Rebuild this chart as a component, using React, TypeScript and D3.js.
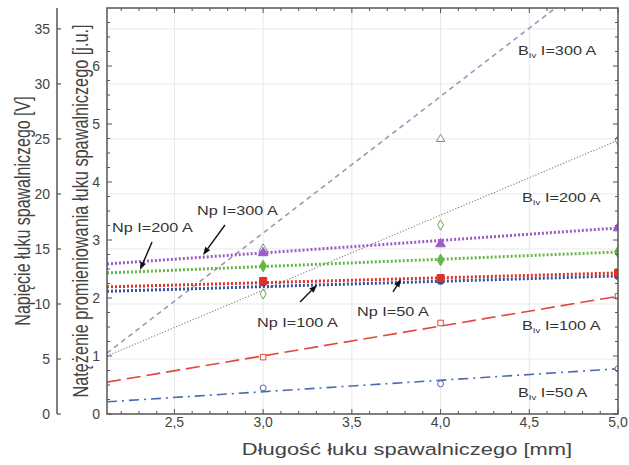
import React from "react";
import * as d3 from "d3";

// ---------- data ----------
const xTicks = [2.5, 3.0, 3.5, 4.0, 4.5, 5.0];
const xTickLabels = ["2,5", "3,0", "3,5", "4,0", "4,5", "5,0"];
const voltTicks = [0, 5, 10, 15, 20, 25, 30, 35];
const ivTicks = [0, 1, 2, 3, 4, 5, 6];
const measuredX = [3.0, 4.0, 5.0];
const lineX = [2.12, 5.0];

// Np series (arc voltage, V)
const npNames = ["Np I=300 A", "Np I=200 A", "Np I=100 A", "Np I=50 A"];
const npLine300 = [13.64, 16.91];
const npLine200 = [12.82, 14.73];
const npLine100 = [11.55, 12.82];
const npLine50 = [11.15, 12.55];
const npPts300 = [14.64, 15.45, 16.9];
const npPts200 = [13.45, 14.0, 14.73];
const npPts100 = [12.09, 12.36, 12.82];
const npPts50 = [11.95, 12.1, 12.55];

// Biv series (radiation intensity, j.u.)
const bivNames = ["I=300 A", "I=200 A", "I=100 A", "I=50 A"];
const bivLine300 = [1.05, 7.83];
const bivLine200 = [1.0, 4.72];
const bivLine100 = [0.55, 2.03];
const bivLine50 = [0.21, 0.78];
const bivPts300 = [2.85, 4.74, 7.6];
const bivPts200 = [2.07, 3.26, 4.72];
const bivPts100 = [0.98, 1.57, 2.03];
const bivPts50 = [0.45, 0.52, 0.78];

// ---------- layout ----------
const W = 629, H = 465;
const L = 107, R = 618, T = 8, B = 414;
const x = d3.scaleLinear().domain([2.12, 5.0]).range([L, R]);
const yV = d3.scaleLinear().domain([0, 36.9]).range([B, T]);
const yI = d3.scaleLinear().domain([0, 7]).range([B, T]);

const FONT = "Liberation Sans, Arial, sans-serif";

type Shape = "triangle" | "diamond" | "square" | "circle";
const symType: Record<Shape, d3.SymbolType> = {
  triangle: d3.symbolTriangle,
  diamond: d3.symbolDiamond,
  square: d3.symbolSquare,
  circle: d3.symbolCircle,
};

const npSeries = [
  { name: npNames[0], line: npLine300, pts: npPts300, color: "#9b5cc6", shape: "triangle" as Shape, size: 40 },
  { name: npNames[1], line: npLine200, pts: npPts200, color: "#62b845", shape: "diamond" as Shape, size: 40 },
  { name: npNames[3], line: npLine50, pts: npPts50, color: "#34509a", shape: "circle" as Shape, size: 40 },
  { name: npNames[2], line: npLine100, pts: npPts100, color: "#dd3327", shape: "square" as Shape, size: 50 },
];

const bivSeries = [
  { name: bivNames[0], line: bivLine300, pts: bivPts300, color: "#a096b8", mcolor: "#888888", dash: "5,4", width: 1.6, shape: "triangle" as Shape },
  { name: bivNames[1], line: bivLine200, pts: bivPts200, color: "#808080", mcolor: "#62a845", dash: "1.2,1.8", width: 1.1, shape: "diamond" as Shape },
  { name: bivNames[2], line: bivLine100, pts: bivPts100, color: "#e0483a", mcolor: "#e0483a", dash: "14,6", width: 1.6, shape: "square" as Shape },
  { name: bivNames[3], line: bivLine50, pts: bivPts50, color: "#4a6ab0", mcolor: "#4a6ab0", dash: "10,5,2,5", width: 1.6, shape: "circle" as Shape },
];

// annotation positions (data coordinates): label start x, label baseline (V), arrow tail, arrow tip
const npLabels = [
  { text: npNames[0], lx: 2.627, lv: 18.09, tail: [2.785, 17.18], tip: [2.661, 14.45] },
  { text: npNames[1], lx: 2.148, lv: 16.55, tail: [2.374, 15.64], tip: [2.306, 13.09] },
  { text: npNames[2], lx: 2.965, lv: 7.91, tail: [3.208, 10.18], tip: [3.304, 11.73] },
  { text: npNames[3], lx: 3.529, lv: 8.91, tail: [3.732, 11.09], tip: [3.777, 12.27] },
];
const bivLabels = [
  { text: bivNames[0], lx: 4.436, li: 6.19 },
  { text: bivNames[1], lx: 4.459, li: 3.66 },
  { text: bivNames[2], lx: 4.459, li: 1.45 },
  { text: bivNames[3], lx: 4.436, li: 0.29 },
];

function Arrow({ tail, tip }: { tail: number[]; tip: number[] }) {
  const x1 = x(tail[0]), y1 = yV(tail[1]);
  const x2 = x(tip[0]), y2 = yV(tip[1]);
  const ang = Math.atan2(y2 - y1, x2 - x1);
  const len = 8, half = 3;
  const bx = x2 - len * Math.cos(ang), by = y2 - len * Math.sin(ang);
  const px = -Math.sin(ang) * half, py = Math.cos(ang) * half;
  return (
    <g>
      <line x1={x1} y1={y1} x2={bx} y2={by} stroke="#111" strokeWidth={1.4} />
      <path d={`M${x2},${y2}L${bx + px},${by + py}L${bx - px},${by - py}Z`} fill="#111" />
    </g>
  );
}

export default function App() {
  const xMinor = d3.range(22, 51).map((d) => d / 10).filter((d) => Math.abs(d * 2 - Math.round(d * 2)) > 1e-6);
  const yMinor = d3.range(0, 29).map((d) => d / 4).filter((d) => Math.abs(d - Math.round(d)) > 1e-6);
  const vGrid = [2.5, 3.0, 3.5, 4.0, 4.5];
  const hGrid = [5, 10, 15, 20, 25, 30, 35];
  const lineGen = d3.line<[number, number]>().x((d) => d[0]).y((d) => d[1]);

  return (
    <svg width={W} height={H} style={{ position: "absolute", left: 0, top: 0, background: "#fff" }} fontFamily={FONT}>
      <defs>
        <clipPath id="plot">
          <rect x={L} y={T} width={R - L} height={B - T} />
        </clipPath>
      </defs>
      <rect x={0} y={0} width={W} height={H} fill="#fff" />

      {/* grid */}
      {vGrid.map((v) => (
        <line key={"vg" + v} x1={x(v)} x2={x(v)} y1={T} y2={B} stroke="#e8e8e8" strokeWidth={1} />
      ))}
      {hGrid.map((v) => (
        <line key={"hg" + v} x1={L} x2={R} y1={yV(v)} y2={yV(v)} stroke="#e8e8e8" strokeWidth={1} />
      ))}

      {/* series */}
      <g clipPath="url(#plot)">
        {bivSeries.map((s) => (
          <path
            key={"bl" + s.name}
            d={lineGen(lineX.map((xv, i) => [x(xv), yI(s.line[i])]) as [number, number][]) || ""}
            fill="none"
            stroke={s.color}
            strokeWidth={s.width}
            strokeDasharray={s.dash}
          />
        ))}
        {npSeries.map((s) => (
          <path
            key={"nl" + s.name}
            d={lineGen(lineX.map((xv, i) => [x(xv), yV(s.line[i])]) as [number, number][]) || ""}
            fill="none"
            stroke={s.color}
            strokeWidth={3}
            strokeDasharray="2,2"
          />
        ))}
        {bivSeries.map((s) =>
          s.pts.map((v, i) => (
            <path
              key={"bp" + s.name + i}
              d={d3.symbol().type(symType[s.shape]).size(s.shape === "circle" ? 28 : 30)() || ""}
              transform={`translate(${x(measuredX[i])},${yI(v)})`}
              fill="#fff"
              stroke={s.mcolor}
              strokeWidth={1}
            />
          ))
        )}
        {npSeries.map((s) =>
          s.pts.map((v, i) => (
            <path
              key={"np" + s.name + i}
              d={d3.symbol().type(symType[s.shape]).size(s.size)() || ""}
              transform={`translate(${x(measuredX[i])},${yV(v)})`}
              fill={s.color}
              stroke={s.color}
              strokeWidth={1}
            />
          ))
        )}
      </g>

      {/* frame */}
      <rect x={L} y={T} width={R - L} height={B - T} fill="none" stroke="#555" strokeWidth={1.5} />

      {/* x ticks (bottom & top) */}
      {xTicks.map((v) => (
        <g key={"xt" + v}>
          <line x1={x(v)} x2={x(v)} y1={B} y2={B - 5} stroke="#555" />
          <line x1={x(v)} x2={x(v)} y1={T} y2={T + 5} stroke="#555" />
        </g>
      ))}
      {xMinor.map((v) => (
        <g key={"xm" + v}>
          <line x1={x(v)} x2={x(v)} y1={B} y2={B - 3} stroke="#555" />
          <line x1={x(v)} x2={x(v)} y1={T} y2={T + 3} stroke="#555" />
        </g>
      ))}
      {/* inner y ticks (left & right) */}
      {ivTicks.map((v) => (
        <g key={"it" + v}>
          <line x1={L} x2={L + 5} y1={yI(v)} y2={yI(v)} stroke="#555" />
          <line x1={R} x2={R - 5} y1={yI(v)} y2={yI(v)} stroke="#555" />
        </g>
      ))}
      {yMinor.map((v) => (
        <g key={"im" + v}>
          <line x1={L} x2={L + 3} y1={yI(v)} y2={yI(v)} stroke="#555" />
          <line x1={R} x2={R - 3} y1={yI(v)} y2={yI(v)} stroke="#555" />
        </g>
      ))}

      {/* x tick labels */}
      {xTicks.map((v, i) => (
        <text key={"xl" + v} x={x(v)} y={427} textAnchor="middle" fontSize={14} fill="#444">
          {xTickLabels[i]}
        </text>
      ))}
      {/* inner y labels */}
      {ivTicks.map((v) => (
        <text key={"il" + v} x={100} y={yI(v) + 5} textAnchor="end" fontSize={14} fill="#444">
          {v}
        </text>
      ))}

      {/* outer voltage axis */}
      <line x1={57} x2={57} y1={T} y2={B} stroke="#555" strokeWidth={1.5} />
      {voltTicks.map((v) => (
        <g key={"vt" + v}>
          <line x1={57} x2={61} y1={yV(v)} y2={yV(v)} stroke="#555" strokeWidth={1.2} />
          <text x={50} y={yV(v) + 5} textAnchor="end" fontSize={14} fill="#444">
            {v}
          </text>
        </g>
      ))}

      {/* axis titles */}
      <text transform={`translate(407,455) scale(1.33,1)`} textAnchor="middle" fontSize={16.5} fill="#444">
        Długość łuku spawalniczego [mm]
      </text>
      <text transform={`translate(30,211) scale(1.4,1) rotate(-90)`} textAnchor="middle" fontSize={16} fill="#444">
        Napięcie łuku spawalniczego [V]
      </text>
      <text transform={`translate(88,211) scale(1.35,1) rotate(-90)`} textAnchor="middle" fontSize={16.3} fill="#444">
        Natężenie promieniowania łuku spawalniczego [j.u.]
      </text>

      {/* annotations */}
      {npLabels.map((a) => (
        <g key={"na" + a.text}>
          <Arrow tail={a.tail} tip={a.tip} />
          <text transform={`translate(${x(a.lx)},${yV(a.lv)}) scale(1.3,1)`} fontSize={12.5} fill="#333">
            {a.text}
          </text>
        </g>
      ))}
      {bivLabels.map((a) => (
        <text key={"ba" + a.text} transform={`translate(${x(a.lx)},${yI(a.li)}) scale(1.3,1)`} fontSize={12.5} fill="#333">
          B
          <tspan fontSize={7.5} dy={3}>Iv</tspan>
          <tspan dy={-3}> {a.text}</tspan>
        </text>
      ))}
    </svg>
  );
}
